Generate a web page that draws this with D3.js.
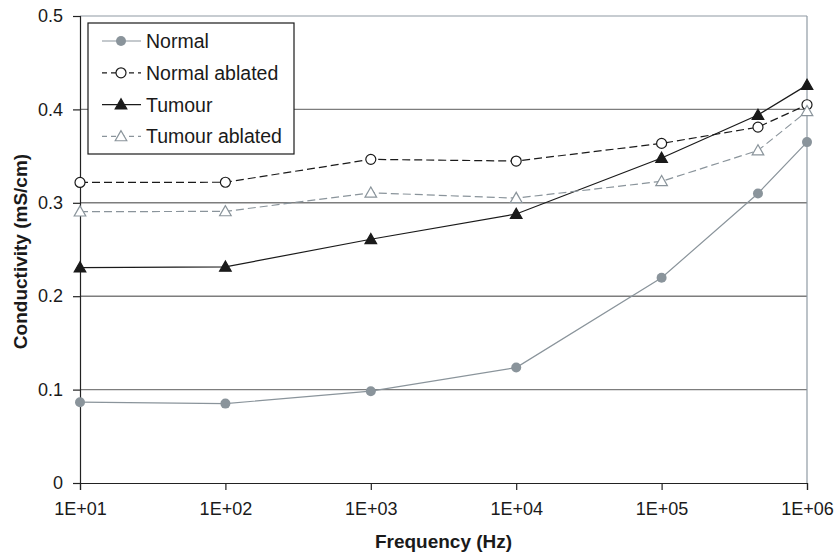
<!DOCTYPE html>
<html>
<head>
<meta charset="utf-8">
<script src="https://cdn.jsdelivr.net/npm/d3@7"></script>
<style>
  html, body { margin: 0; padding: 0; background: #fff; }
  svg { display: block; font-family: "Liberation Sans", Arial, sans-serif; }
</style>
</head>
<body>
<svg id="chart" width="835" height="554"></svg>
<script>
// ---- data ----
const frequencies = [10, 100, 1000, 10000, 100000, 460000, 1000000];
const normal         = [0.0865, 0.0850, 0.0983, 0.1236, 0.2197, 0.310, 0.365];
const normalAblated  = [0.3218, 0.3220, 0.3465, 0.3447, 0.3636, 0.381, 0.405];
const tumour         = [0.2307, 0.2314, 0.2610, 0.2880, 0.3480, 0.394, 0.426];
const tumourAblated  = [0.2905, 0.2908, 0.3107, 0.3050, 0.3230, 0.356, 0.398];
const seriesNames = ["Normal", "Normal ablated", "Tumour", "Tumour ablated"];
const xTicks = [1e1, 1e2, 1e3, 1e4, 1e5, 1e6];
const xTickLabels = ["1E+01", "1E+02", "1E+03", "1E+04", "1E+05", "1E+06"];
const yTicks = [0, 0.1, 0.2, 0.3, 0.4, 0.5];
const yTickLabels = ["0", "0.1", "0.2", "0.3", "0.4", "0.5"];

const styles = [
  { color: "#8a949b", dash: null, marker: "circleFilled" },
  { color: "#1a1a1a", dash: "8,4", marker: "circleOpen" },
  { color: "#1a1a1a", dash: null, marker: "triFilled" },
  { color: "#8a949b", dash: "8,4", marker: "triOpen" }
];
const allValues = [normal, normalAblated, tumour, tumourAblated];

const svg = d3.select("#chart");
const m = { left: 80, right: 807, top: 16, bottom: 483 };
const x = d3.scaleLog().domain([1e1, 1e6]).range([m.left, m.right]);
const y = d3.scaleLinear().domain([0, 0.5]).range([m.bottom, m.top]);

// gridlines
svg.append("g").selectAll("line").data([0.1, 0.2, 0.3, 0.4]).join("line")
  .attr("x1", m.left).attr("x2", m.right)
  .attr("y1", d => y(d)).attr("y2", d => y(d))
  .attr("stroke", "#7d7d7d").attr("stroke-width", 1.4);

// plot border top/right
svg.append("line").attr("x1", m.left).attr("x2", m.right).attr("y1", y(0.5)).attr("y2", y(0.5))
  .attr("stroke", "#8f9aa3").attr("stroke-width", 1.2);
svg.append("line").attr("x1", m.right).attr("x2", m.right).attr("y1", m.top).attr("y2", m.bottom)
  .attr("stroke", "#8f9aa3").attr("stroke-width", 1.2);

// axes
const xAxis = d3.axisBottom(x).tickValues(xTicks)
  .tickFormat((d, i) => xTickLabels[i]).tickSizeOuter(0).tickSize(7).tickPadding(12);
const gx = svg.append("g").attr("transform", `translate(0,${m.bottom})`).call(xAxis);
gx.select(".domain").attr("stroke", "#222").attr("stroke-width", 1.2);
gx.selectAll(".tick line").attr("stroke", "#222").attr("stroke-width", 1.2);
gx.selectAll("text").attr("font-size", 18).attr("fill", "#1a1a1a")
  .attr("font-family", "'Liberation Sans', Arial, sans-serif");

const yAxis = d3.axisLeft(y).tickValues(yTicks)
  .tickFormat((d, i) => yTickLabels[i]).tickSizeOuter(0).tickSize(7).tickPadding(10);
const gy = svg.append("g").attr("transform", `translate(${m.left},0)`).call(yAxis);
gy.select(".domain").attr("stroke", "#222").attr("stroke-width", 1.2);
gy.selectAll(".tick line").attr("stroke", "#222").attr("stroke-width", 1.2);
gy.selectAll("text").attr("font-size", 18).attr("fill", "#1a1a1a")
  .attr("font-family", "'Liberation Sans', Arial, sans-serif");

// axis titles
svg.append("text").attr("x", (m.left + m.right) / 2).attr("y", 548)
  .attr("text-anchor", "middle").attr("font-size", 19).attr("font-weight", "bold")
  .attr("fill", "#1a1a1a").text("Frequency (Hz)");
svg.append("text").attr("transform", `translate(27,${(m.top + m.bottom) / 2 + 2}) rotate(-90)`)
  .attr("text-anchor", "middle").attr("font-size", 19).attr("font-weight", "bold")
  .attr("fill", "#1a1a1a").text("Conductivity (mS/cm)");

// markers
function drawMarker(g, type, color, cx, cy) {
  if (type === "circleFilled") {
    g.append("circle").attr("cx", cx).attr("cy", cy).attr("r", 5).attr("fill", color);
  } else if (type === "circleOpen") {
    g.append("circle").attr("cx", cx).attr("cy", cy).attr("r", 5)
      .attr("fill", "#fff").attr("stroke", color).attr("stroke-width", 1.2);
  } else {
    const s = 5.8;
    const pts = [[cx, cy - s], [cx - s, cy + s * 0.75], [cx + s, cy + s * 0.75]];
    g.append("path").attr("d", "M" + pts.map(p => p.join(",")).join("L") + "Z")
      .attr("fill", type === "triFilled" ? color : "#fff")
      .attr("stroke", color).attr("stroke-width", 1.2);
  }
}

const line = d3.line().x(d => x(d[0])).y(d => y(d[1]));
allValues.forEach((vals, si) => {
  const st = styles[si];
  const g = svg.append("g");
  const data = frequencies.map((f, i) => [f, vals[i]]);
  g.append("path").datum(data).attr("d", line)
    .attr("fill", "none").attr("stroke", st.color).attr("stroke-width", 1.2)
    .attr("stroke-dasharray", st.dash);
  data.forEach(d => drawMarker(g, st.marker, st.color, x(d[0]), y(d[1])));
});

// legend
const lg = svg.append("g");
lg.append("rect").attr("x", 88).attr("y", 23).attr("width", 206).attr("height", 131)
  .attr("fill", "#fff").attr("stroke", "#1a1a1a").attr("stroke-width", 1.2);
seriesNames.forEach((name, i) => {
  const st = styles[i];
  const cy = 41 + i * 31.8;
  lg.append("line").attr("x1", 102).attr("x2", 141).attr("y1", cy).attr("y2", cy)
    .attr("stroke", st.color).attr("stroke-width", 1.2)
    .attr("stroke-dasharray", st.dash ? "5,4" : null);
  drawMarker(lg, st.marker, st.color, 121, cy);
  lg.append("text").attr("x", 146).attr("y", cy + 7).attr("font-size", 19.5)
    .attr("fill", "#1a1a1a").text(name);
});
</script>
</body>
</html>
